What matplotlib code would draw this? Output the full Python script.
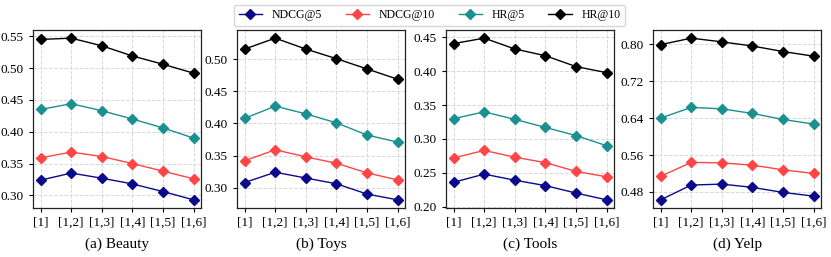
import matplotlib.pyplot as plt

plt.rcParams['font.family'] = ['Liberation Serif', 'DejaVu Serif']

x_labels = ['[1]', '[1,2]', '[1,3]', '[1,4]', '[1,5]', '[1,6]']
metrics = ['NDCG@5', 'NDCG@10', 'HR@5', 'HR@10']
colors = ['#0a0a8a', '#ff4545', '#1a9090', '#000000']

titles = ['(a) Beauty', '(b) Toys', '(c) Tools', '(d) Yelp']

beauty = [
    [0.324, 0.335, 0.327, 0.318, 0.306, 0.293],
    [0.359, 0.368, 0.361, 0.350, 0.338, 0.326],
    [0.435, 0.444, 0.433, 0.420, 0.406, 0.390],
    [0.545, 0.547, 0.535, 0.519, 0.506, 0.492],
]
toys = [
    [0.308, 0.324, 0.315, 0.306, 0.290, 0.281],
    [0.342, 0.359, 0.348, 0.338, 0.323, 0.312],
    [0.408, 0.427, 0.415, 0.401, 0.382, 0.371],
    [0.516, 0.533, 0.516, 0.501, 0.485, 0.469],
]
tools = [
    [0.236, 0.248, 0.239, 0.231, 0.220, 0.210],
    [0.272, 0.283, 0.273, 0.265, 0.252, 0.244],
    [0.330, 0.340, 0.329, 0.317, 0.305, 0.290],
    [0.441, 0.449, 0.433, 0.423, 0.407, 0.398],
]
yelp = [
    [0.463, 0.495, 0.497, 0.490, 0.479, 0.471],
    [0.514, 0.544, 0.543, 0.538, 0.528, 0.520],
    [0.640, 0.663, 0.660, 0.650, 0.637, 0.627],
    [0.799, 0.813, 0.805, 0.796, 0.784, 0.774],
]
datasets = [beauty, toys, tools, yelp]

yelp_ticks = [0.48, 0.56, 0.64, 0.72, 0.80]

fig = plt.figure(figsize=(8.31, 2.57), dpi=100)
lefts = [0.0397, 0.2852, 0.5367, 0.7858]
width = 0.2025
bottom, height = 0.191, 0.692

lines = []
for i, (data, title) in enumerate(zip(datasets, titles)):
    ax = fig.add_axes([lefts[i], bottom, width, height])
    for j, vals in enumerate(data):
        ln, = ax.plot(range(len(x_labels)), vals, color=colors[j], marker='D',
                      markersize=5.5, linewidth=1, label=metrics[j])
        if i == 0:
            lines.append(ln)
    ax.set_xticks(range(len(x_labels)))
    ax.set_xticklabels(x_labels)
    if i == 3:
        ax.set_yticks(yelp_ticks)
    ax.grid(True, linestyle='--', color='#d8d8d8', linewidth=0.7)
    ax.set_axisbelow(True)
    ax.tick_params(labelsize=9.5, length=3, width=0.8)
    for s in ax.spines.values():
        s.set_color('#222222')
        s.set_linewidth(0.9)
    ax.set_xlabel(title, fontsize=11, labelpad=6)

fig.legend(lines, metrics, loc='center', bbox_to_anchor=(0.517, 0.94), ncol=4,
           fontsize=8.5, frameon=True, edgecolor='#cccccc', handlelength=2,
           handletextpad=0.8, columnspacing=2.0, borderpad=0.4)

fig.savefig('out.png', dpi=100)
